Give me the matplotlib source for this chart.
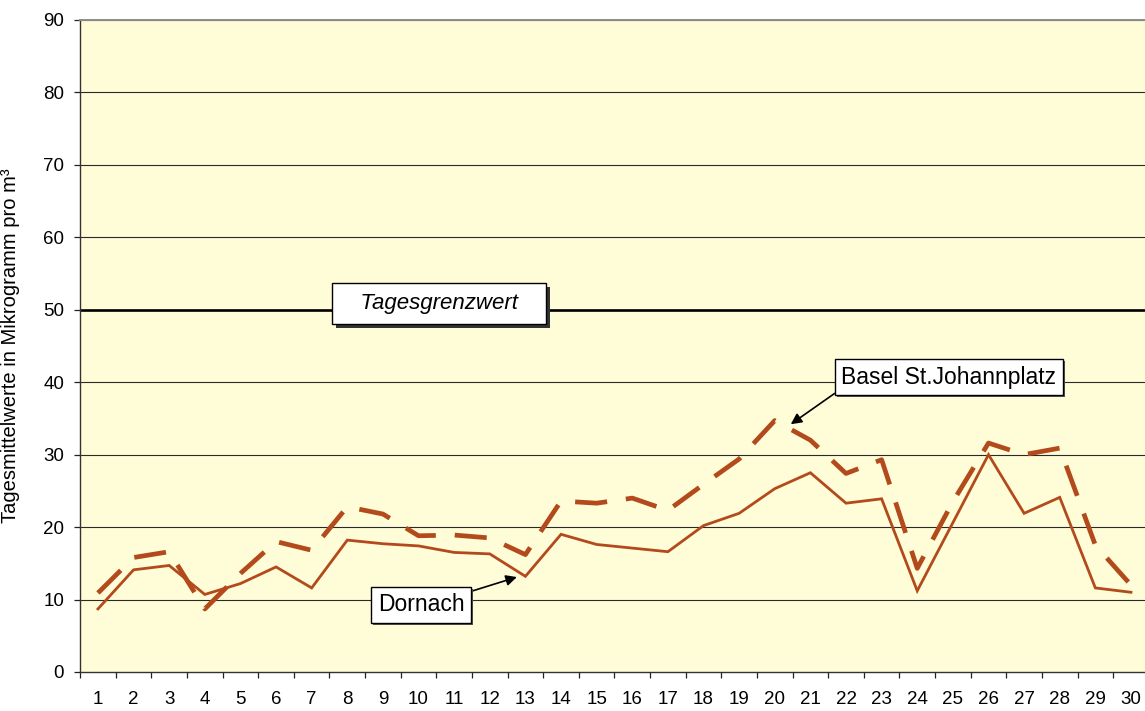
import matplotlib
matplotlib.use("Agg")
import matplotlib.pyplot as plt
import matplotlib.patheffects as pe
import numpy as np

days = list(range(1, 31))
dornach = [8.7, 14.1, 14.7, 10.7, 12.2, 14.5, 11.6, 18.2, 17.7, 17.4,
           16.5, 16.3, 13.2, 19.0, 17.6, 17.1, 16.6, 20.2, 21.9, 25.3,
           27.5, 23.3, 23.9, 11.2, 20.6, 30.0, 21.9, 24.1, 11.6, 11.0]
basel = [10.9, 15.8, 16.6, 8.7, 13.6, 18.0, 16.8, 22.8, 21.8, 18.8,
         18.9, 18.5, 16.2, 23.6, 23.3, 24.0, 22.3, 25.9, 29.4, 34.7,
         32.0, 27.4, 29.3, 14.3, 23.5, 31.6, 30.0, 30.9, 17.5, 12.0]
limit = 50
yticks = list(range(0, 91, 10))
ylabel = "Tagesmittelwerte in Mikrogramm pro m\u00b3"
limit_label = "Tagesgrenzwert"
basel_label = "Basel St.Johannplatz"
dornach_label = "Dornach"

plt.rcParams['font.family'] = ['Liberation Sans', 'DejaVu Sans']

line_color = '#B34A1C'
bg = '#FFFCD8'

fig = plt.figure(figsize=(11.45, 7.11), dpi=100)
ax = fig.add_axes([0.0700, 0.0549, 0.9333, 0.917])
ax.set_facecolor(bg)

ax.set_xlim(0.5, 30.5)
ax.set_ylim(0, 90)

for v in yticks[1:]:
    ax.axhline(v, color='#2a2a2a', lw=0.8, zorder=1)

ax.axhline(limit, color='black', lw=1.9, zorder=2)

ax.plot(days, dornach, color=line_color, lw=2.0, zorder=3,
        solid_joinstyle='miter')
ax.plot(days, basel, color=line_color, lw=3.4, zorder=3,
        dashes=(6.8, 4.0), dash_capstyle='butt')

ax.set_yticks(yticks)
ax.set_xticks(days)
ax.set_xticks(np.arange(0.5, 31, 1), minor=True)
ax.tick_params(axis='x', which='major', length=0, pad=14, labelsize=13.5)
ax.tick_params(axis='x', which='minor', length=4.5, width=0.9, color='#222222')
ax.tick_params(axis='y', length=4.5, width=0.9, pad=7, labelsize=13.5,
               color='#222222')

for s in ['left', 'bottom']:
    ax.spines[s].set_color('#333333')
    ax.spines[s].set_linewidth(1.0)
ax.spines['top'].set_color('#8c8c8c')
ax.spines['top'].set_linewidth(1.4)
ax.spines['right'].set_visible(False)

ax.set_ylabel(ylabel, fontsize=14.5)
ax.yaxis.set_label_coords(-0.056, 0.5)

shadow = [pe.withSimplePatchShadow(offset=(3, -3), shadow_rgbFace='#333333', alpha=1.0)]
shadow_small = [pe.withSimplePatchShadow(offset=(1.5, -1.5), shadow_rgbFace='#555555', alpha=1.0)]

t = ax.text(10.57, 50.9, "   " + limit_label + "   ", fontsize=16, style='italic',
            ha='center', va='center', zorder=5,
            bbox=dict(boxstyle='square,pad=0.45', fc='white', ec='black', lw=1.0))
t.get_bbox_patch().set_path_effects(shadow)

a1 = ax.annotate(basel_label, xy=(20.45, 34.2), xytext=(24.89, 40.7),
                 fontsize=16.5, ha='center', va='center', zorder=5,
                 bbox=dict(boxstyle='square,pad=0.28', fc='white', ec='black', lw=1.0),
                 arrowprops=dict(arrowstyle='-|>', color='black', lw=1.2,
                                 relpos=(0, 0), shrinkA=0, shrinkB=0,
                                 mutation_scale=16))
a1.get_bbox_patch().set_path_effects(shadow_small)

a2 = ax.annotate(dornach_label, xy=(12.76, 13.1), xytext=(10.07, 9.25),
                 fontsize=16.5, ha='center', va='center', zorder=5,
                 bbox=dict(boxstyle='square,pad=0.28', fc='white', ec='black', lw=1.0),
                 arrowprops=dict(arrowstyle='-|>', color='black', lw=1.2,
                                 relpos=(1, 1), shrinkA=0, shrinkB=0,
                                 mutation_scale=16))
a2.get_bbox_patch().set_path_effects(shadow_small)

fig.savefig("out.png", dpi=100, facecolor='white')
